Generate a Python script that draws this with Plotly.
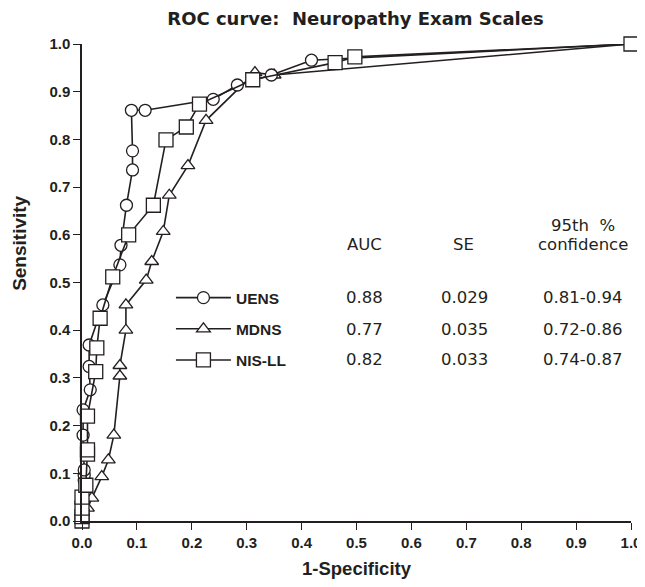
import plotly.graph_objects as go

# ---- data ----
uens_x = [0.0, 0.004, 0.004, 0.004, 0.002, 0.002, 0.015, 0.013, 0.013, 0.038, 0.069, 0.071,
          0.081, 0.092, 0.092, 0.090, 0.115, 0.239, 0.283, 0.345, 0.418, 1.0]
uens_y = [0.0, 0.086, 0.096, 0.107, 0.180, 0.233, 0.275, 0.324, 0.369, 0.453, 0.537, 0.578,
          0.662, 0.736, 0.776, 0.861, 0.861, 0.884, 0.914, 0.935, 0.966, 1.0]

mdns_x = [0.0, 0.010, 0.018, 0.036, 0.048, 0.058, 0.069, 0.069, 0.080, 0.080, 0.117, 0.127,
          0.148, 0.159, 0.193, 0.226, 0.315, 0.350, 1.0]
mdns_y = [0.0, 0.027, 0.048, 0.093, 0.128, 0.180, 0.304, 0.326, 0.400, 0.453, 0.505, 0.544,
          0.607, 0.683, 0.745, 0.840, 0.940, 0.935, 1.0]

nis_x = [0.0, 0.0, 0.0, 0.0, 0.007, 0.010, 0.010, 0.010, 0.025, 0.027, 0.033, 0.056, 0.085,
         0.130, 0.153, 0.190, 0.214, 0.311, 0.461, 0.497, 1.0]
nis_y = [0.0, 0.009, 0.027, 0.050, 0.075, 0.140, 0.149, 0.220, 0.313, 0.363, 0.425, 0.512,
         0.600, 0.662, 0.799, 0.826, 0.874, 0.925, 0.961, 0.973, 1.0]

series_names = ["UENS", "MDNS", "NIS-LL"]
auc = ["0.88", "0.77", "0.82"]
se = ["0.029", "0.035", "0.033"]
ci = ["0.81-0.94", "0.72-0.86", "0.74-0.87"]
tick_vals = [0.0, 0.1, 0.2, 0.3, 0.4, 0.5, 0.6, 0.7, 0.8, 0.9, 1.0]

LINE = "#231f20"
fig = go.Figure()

def add(x, y, name, symbol, size, rank):
    fig.add_trace(go.Scatter(
        x=x, y=y, mode="lines+markers", name="<b>" + name + "</b>", legendrank=rank,
        legendgroup=name,
        line=dict(color=LINE, width=1.6),
        marker=dict(symbol=symbol, size=size, color="white",
                    line=dict(color=LINE, width=1.3)),
        cliponaxis=False,
    ))

add(mdns_x, mdns_y, "MDNS", "triangle-up", 12, 2)
add(uens_x, uens_y, "UENS", "circle", 12, 1)
add(nis_x, nis_y, "NIS-LL", "square", 14, 3)

TF = "DejaVu Sans"
ann = []
ann.append(dict(x=0.515, y=0.579, text="AUC"))
ann.append(dict(x=0.695, y=0.579, text="SE"))
ann.append(dict(x=0.912, y=0.620, text="95th  %"))
ann.append(dict(x=0.912, y=0.579, text="confidence"))
row_y = [0.468, 0.402, 0.339]
for i in range(3):
    ann.append(dict(x=0.515, y=row_y[i], text=auc[i]))
    ann.append(dict(x=0.697, y=row_y[i], text=se[i]))
    ann.append(dict(x=0.912, y=row_y[i], text=ci[i]))
for a in ann:
    a.update(xref="x", yref="y", showarrow=False,
             font=dict(family=TF, size=16.5, color="#231f20"))

AX_FONT = "Liberation Sans"
ann.append(dict(x=-0.113, y=0.583, xref="paper", yref="paper", showarrow=False,
                text="<b>Sensitivity</b>", textangle=-90,
                xanchor="center", yanchor="middle",
                font=dict(family=AX_FONT, size=19, color="#231f20")))

fig.update_layout(
    width=637, height=571,
    margin=dict(l=74, r=14, t=36, b=58),
    paper_bgcolor="white", plot_bgcolor="white",
    title=dict(text="<b>ROC curve:  Neuropathy Exam Scales</b>",
               x=347.5 / 637, xanchor="center", xref="container",
               y=1 - 11 / 571, yanchor="middle",
               font=dict(family=TF, size=18, color="#231f20")),
    font=dict(family="Liberation Sans", color="#231f20"),
    annotations=ann,
    showlegend=True,
    legend=dict(x=0.162, y=0.503, xanchor="left", yanchor="top",
                traceorder="grouped", tracegroupgap=8, itemwidth=55,
                bgcolor="rgba(0,0,0,0)",
                font=dict(family="Liberation Sans", size=15.5, color="#231f20")),
)

axis_common = dict(
    range=[0, 1], tickvals=tick_vals, tickformat=".1f",
    showgrid=False, zeroline=False, automargin=False,
    showline=True, linecolor=LINE, linewidth=1.5,
    ticks="outside", ticklen=7, tickwidth=1.3, tickcolor=LINE,
    ticklabeloverflow="allow",
    tickfont=dict(family=AX_FONT, size=15, color="#231f20", weight="bold"),
)
fig.update_xaxes(**axis_common,
                 title=dict(text="<b>1-Specificity</b>", standoff=12,
                            font=dict(family=AX_FONT, size=18.5)))
fig.update_yaxes(**axis_common)

fig.write_html("out.html")
